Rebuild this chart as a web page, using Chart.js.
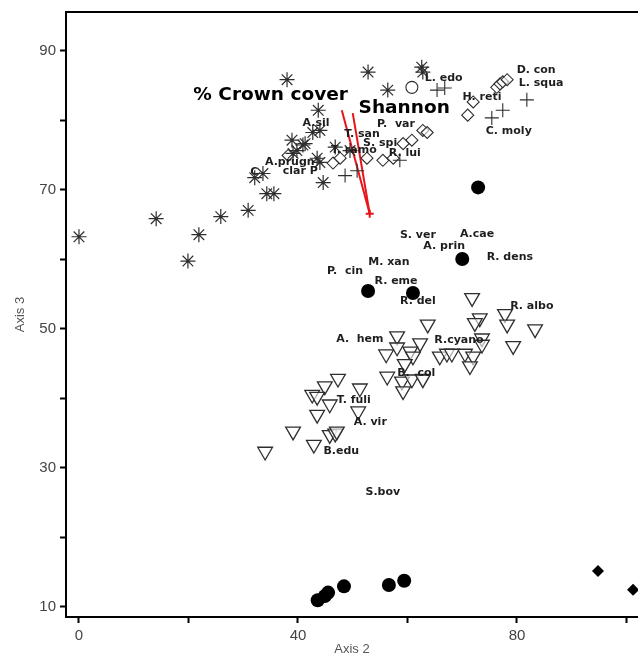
<!DOCTYPE html>
<html>
<head>
<meta charset="utf-8">
<script src="https://cdn.jsdelivr.net/npm/chart.js@4.4.1/dist/chart.umd.min.js"></script>
<style>
  body { margin: 0; background: #fff; }
  canvas { display: block; }
</style>
</head>
<body>
<canvas id="ordination" width="638" height="657"></canvas>
<script>
// tick labels
const xTickValues = [0, 20, 40, 60, 80, 100];
const xTickLabels = ['0', '', '40', '', '80', ''];
const yTickValues = [10, 20, 30, 40, 50, 60, 70, 80, 90];
const yTickLabels = ['10', '', '30', '', '50', '', '70', '', '90'];

// asterisks
const starX = [0, 14.1, 19.9, 21.9, 25.9, 30.9, 32.1, 33.6, 34.3, 35.6, 38.0, 38.9, 40.9, 39.8, 39.1, 41.3, 42.7, 43.7, 44.0, 43.5, 44.0, 44.6, 46.8, 49.5, 52.8, 56.4, 62.6, 62.8];
const starY = [63.2, 65.8, 59.7, 63.5, 66.1, 67.0, 71.7, 72.3, 69.4, 69.4, 85.8, 77.1, 76.4, 75.6, 75.2, 76.6, 78.2, 81.4, 78.5, 74.5, 73.9, 71.0, 76.1, 75.6, 86.9, 84.3, 87.6, 86.9];

// plus signs
const plusX = [65.4, 66.8, 48.6, 50.8, 81.8, 77.4, 75.4, 58.6];
const plusY = [84.3, 84.6, 72.0, 72.7, 82.9, 81.4, 80.3, 74.2];

// open circles
const ringX = [60.8];
const ringY = [84.7];

// open diamonds
const diamondX = [62.8, 60.8, 59.2, 71.0, 72.0, 76.3, 76.9, 77.4, 78.2, 46.4, 47.7, 52.6, 55.5, 57.4, 38.2, 63.6];
const diamondY = [78.5, 77.1, 76.6, 80.7, 82.6, 84.7, 85.2, 85.5, 85.8, 73.8, 74.5, 74.5, 74.2, 74.5, 74.9, 78.2];

// filled circles
const dotX = [72.9, 70.0, 52.8, 61.0, 43.6, 44.9, 45.5, 48.4, 56.6, 59.4];
const dotY = [70.3, 60.0, 55.4, 55.1, 10.9, 11.5, 12.0, 12.9, 13.1, 13.7];

// filled diamonds
const solidDiamondX = [94.8, 101.2];
const solidDiamondY = [15.1, 12.4];

// inverted triangles
const triX = [63.7, 58.1, 62.3, 56.1, 58.1, 60.5, 61.0, 59.5, 56.3, 59.0, 60.8, 62.8, 59.2, 47.3, 51.3, 44.9, 42.6, 43.5, 45.8, 43.5, 51.0, 39.1, 34.0, 42.9, 45.8, 46.8, 47.1, 71.8, 73.2, 72.3, 77.8, 78.2, 83.3, 79.3, 73.6, 73.6, 70.5, 72.0, 71.4, 65.9, 67.2, 68.1, 62.8];
const triY = [50.6, 48.9, 47.9, 46.3, 47.3, 46.7, 46.0, 44.9, 43.1, 42.4, 42.7, 42.8, 41.0, 42.8, 41.4, 41.7, 40.5, 40.2, 39.1, 37.6, 38.1, 35.2, 32.3, 33.3, 34.7, 34.9, 35.2, 54.4, 51.5, 50.8, 52.1, 50.6, 49.9, 47.5, 48.6, 47.7, 46.4, 46.0, 44.6, 46.0, 46.4, 46.4, 42.7];

// environmental vectors (origin -> tip)
const vectorOrigin = [53.1, 66.5];
const crownTip = [48.0, 81.4];
const shannonTip = [50.0, 81.0];

// species labels
const speciesNames = ['L. edo', 'D. con', 'L. squa', 'H. reti', 'C. moly', 'A.sil', 'P.  var', 'T. san', 'A.prugn', 'C', 'clar P',
  'T. ramo', 'S. spi', 'R. lui', 'S. ver', 'A.cae', 'A. prin', 'R. dens', 'M. xan', 'P.  cin', 'R. eme', 'R. del', 'R. albo',
  'A.  hem', 'R.cyano', 'B.  col', 'T. fuli', 'A. vir', 'B.edu', 'S.bov'];
const speciesX = [66.6, 83.5, 84.4, 73.6, 78.5, 43.3, 57.9, 51.7, 38.5, 32.0, 40.4,
  50.2, 55.0, 59.5, 61.9, 72.7, 66.7, 78.7, 56.6, 48.6, 57.9, 61.9, 82.7,
  51.3, 69.4, 61.6, 50.2, 53.2, 47.9, 55.5];
const speciesY = [86.0, 87.2, 85.3, 83.3, 78.4, 79.5, 79.4, 77.9, 74.0, 72.5, 72.6,
  75.6, 76.6, 75.3, 63.4, 63.6, 61.8, 60.2, 59.5, 58.3, 56.8, 54.0, 53.2,
  48.5, 48.3, 43.6, 39.7, 36.5, 32.4, 26.5];

// vector labels
const vectorNames = ['% Crown cover', 'Shannon'];
const vectorLabelX = [35.0, 59.4];
const vectorLabelY = [83.6, 81.7];

function pts(xs, ys) {
    let out = [];
    for (var i = 0; i < xs.length; i++) {
        out.push({x: xs[i], y: ys[i]});
    }
    return out;
}

const markerColor = '#2e2e2e';
const axisFont = 'Arial, "Liberation Sans", sans-serif';
const labelFont = '"DejaVu Sans", Verdana, sans-serif';

const labelPlugin = {
    id: 'labels',
    afterDatasetsDraw(chart) {
        const ctx = chart.ctx;
        const xs = chart.scales.x;
        const ys = chart.scales.y;
        ctx.save();
        ctx.textAlign = 'center';
        ctx.textBaseline = 'middle';
        ctx.fillStyle = '#1e1e1e';
        ctx.font = 'bold 11px ' + labelFont;
        for (var i = 0; i < speciesNames.length; i++) {
            ctx.fillText(speciesNames[i], xs.getPixelForValue(speciesX[i]), ys.getPixelForValue(speciesY[i]));
        }
        ctx.fillStyle = '#000';
        ctx.font = 'bold 18.5px ' + labelFont;
        for (var j = 0; j < vectorNames.length; j++) {
            ctx.fillText(vectorNames[j], xs.getPixelForValue(vectorLabelX[j]), ys.getPixelForValue(vectorLabelY[j]));
        }
        // top frame line
        const area = chart.chartArea;
        ctx.strokeStyle = '#000';
        ctx.lineWidth = 2;
        ctx.beginPath();
        ctx.moveTo(area.left - 1, area.top);
        ctx.lineTo(chart.width, area.top);
        ctx.stroke();
        ctx.restore();
    }
};

const ctx = document.getElementById('ordination');

let config = {
    type: 'scatter',
    data: {
        datasets: [{
            label: 'asterisk',
            data: pts(starX, starY),
            pointStyle: 'star',
            pointRadius: 7.5,
            borderColor: markerColor,
            borderWidth: 1.2,
            backgroundColor: 'transparent'
        }, {
            label: 'plus',
            data: pts(plusX, plusY),
            pointStyle: 'cross',
            pointRadius: 7,
            borderColor: markerColor,
            borderWidth: 1.1
        }, {
            label: 'ring',
            data: pts(ringX, ringY),
            pointStyle: 'circle',
            pointRadius: 6,
            borderColor: markerColor,
            borderWidth: 1.1,
            backgroundColor: '#fff'
        }, {
            label: 'diamond',
            data: pts(diamondX, diamondY),
            pointStyle: 'rectRot',
            pointRadius: 6,
            borderColor: markerColor,
            borderWidth: 1.1,
            backgroundColor: 'rgba(255,255,255,0.6)'
        }, {
            label: 'triangle',
            data: pts(triX, triY),
            pointStyle: 'triangle',
            rotation: 180,
            pointRadius: 8.5,
            borderColor: markerColor,
            borderWidth: 1.3,
            backgroundColor: 'rgba(255,255,255,0.6)'
        }, {
            label: 'dot',
            data: pts(dotX, dotY),
            pointStyle: 'circle',
            pointRadius: 7,
            borderColor: '#000',
            borderWidth: 0,
            backgroundColor: '#000'
        }, {
            label: 'solid diamond',
            data: pts(solidDiamondX, solidDiamondY),
            pointStyle: 'rectRot',
            pointRadius: 6,
            borderColor: '#000',
            borderWidth: 0,
            backgroundColor: '#000'
        }, {
            type: 'line',
            label: 'crown',
            data: [{x: vectorOrigin[0], y: vectorOrigin[1]}, {x: crownTip[0], y: crownTip[1]}],
            borderColor: '#e8141a',
            borderWidth: 2,
            pointRadius: [4, 0],
            pointStyle: 'cross',
            pointBorderColor: '#e8141a',
            fill: false
        }, {
            type: 'line',
            label: 'shannon',
            data: [{x: vectorOrigin[0], y: vectorOrigin[1]}, {x: shannonTip[0], y: shannonTip[1]}],
            borderColor: '#e8141a',
            borderWidth: 2,
            pointRadius: 0,
            fill: false
        }]
    },
    options: {
        responsive: false,
        animation: false,
        layout: {
            autoPadding: false,
            padding: {top: 12, right: 0, bottom: 0, left: 0}
        },
        plugins: {
            legend: {display: false},
            tooltip: {enabled: false}
        },
        scales: {
            x: {
                type: 'linear',
                min: -2.37,
                max: 102.1,
                afterBuildTicks: function(scale) {
                    scale.ticks = xTickValues.map(v => ({value: v}));
                },
                afterFit: function(scale) {
                    scale.height = 40;
                    scale.paddingLeft = 0;
                    scale.paddingRight = 0;
                },
                ticks: {
                    autoSkip: false,
                    maxRotation: 0,
                    padding: 4,
                    color: '#444',
                    font: {family: axisFont, size: 15},
                    callback: function(value) {
                        return xTickLabels[xTickValues.indexOf(value)];
                    }
                },
                grid: {
                    drawOnChartArea: false,
                    drawTicks: true,
                    tickLength: 6,
                    tickWidth: 2,
                    tickColor: '#000'
                },
                border: {color: '#000', width: 2},
                title: {
                    display: true,
                    text: 'Axis 2',
                    color: '#555',
                    padding: {top: 0, bottom: 0},
                    font: {family: axisFont, size: 13}
                }
            },
            y: {
                type: 'linear',
                min: 8.49,
                max: 95.54,
                afterBuildTicks: function(scale) {
                    scale.ticks = yTickValues.map(v => ({value: v}));
                },
                afterFit: function(scale) {
                    scale.width = 66;
                    scale.paddingTop = 0;
                    scale.paddingBottom = 0;
                },
                ticks: {
                    autoSkip: false,
                    padding: 4,
                    color: '#444',
                    font: {family: axisFont, size: 15},
                    callback: function(value) {
                        return yTickLabels[yTickValues.indexOf(value)];
                    }
                },
                grid: {
                    drawOnChartArea: false,
                    drawTicks: true,
                    tickLength: 6,
                    tickWidth: 2,
                    tickColor: '#000'
                },
                border: {color: '#000', width: 2},
                title: {
                    display: true,
                    text: 'Axis 3',
                    color: '#555',
                    padding: {top: 13, bottom: 0},
                    font: {family: axisFont, size: 13}
                }
            }
        }
    },
    plugins: [labelPlugin]
};

let chartObj = new Chart(ctx, config);
</script>
</body>
</html>
